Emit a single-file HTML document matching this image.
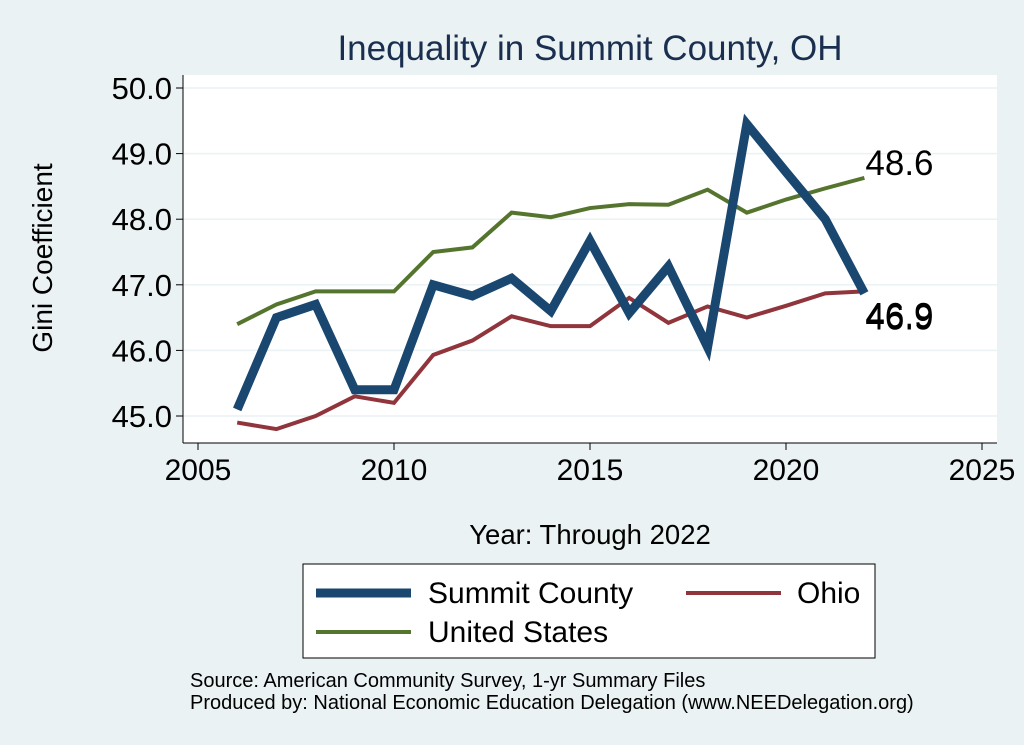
<!DOCTYPE html>
<html><head><meta charset="utf-8"><style>
body{margin:0;background:#eaf2f3;}
svg{display:block;font-family:"Liberation Sans",sans-serif;}
</style></head><body>
<svg id="chart" width="1024" height="745">
<rect x="0" y="0" width="1024" height="745" fill="#eaf2f3"/>
<text x="590" y="60" text-anchor="middle" font-size="35" fill="#1a2e4f">Inequality in Summit County, OH</text>
<rect x="183" y="75" width="814" height="368" fill="#fff"/>
<g id="grid"></g><g id="axes"></g><g id="series"></g>
<text transform="translate(52,258) rotate(-90)" text-anchor="middle" font-size="28" fill="#000">Gini Coefficient</text>
<text x="590" y="544" text-anchor="middle" font-size="27.5" fill="#000">Year: Through 2022</text>
<g>
<rect x="303" y="564" width="572" height="94" fill="#fff" stroke="#000" stroke-width="1"/>
<line x1="316" y1="593" x2="411" y2="593" stroke="#1a476f" stroke-width="9"/>
<text x="428" y="603" font-size="30">Summit County</text>
<line x1="686" y1="593" x2="781" y2="593" stroke="#90353b" stroke-width="4"/>
<text x="797" y="603" font-size="30">Ohio</text>
<line x1="316" y1="632" x2="411" y2="632" stroke="#55752f" stroke-width="4"/>
<text x="428" y="642" font-size="30">United States</text>
</g>
<text x="190" y="687" font-size="20">Source: American Community Survey, 1-yr Summary Files</text>
<text x="190" y="709" font-size="20">Produced by: National Economic Education Delegation (www.NEEDelegation.org)</text>
</svg>
<script>
const years=[2006,2007,2008,2009,2010,2011,2012,2013,2014,2015,2016,2017,2018,2019,2020,2021,2022];
const summit=[45.1,46.5,46.7,45.4,45.4,47.0,46.83,47.1,46.6,47.67,46.57,47.28,46.05,49.45,48.72,48.0,46.87];
const ohio=[44.9,44.8,45.0,45.3,45.2,45.93,46.15,46.52,46.37,46.37,46.8,46.42,46.67,46.5,46.68,46.87,46.9];
const us=[46.4,46.7,46.9,46.9,46.9,47.5,47.57,48.1,48.03,48.17,48.23,48.22,48.45,48.1,48.3,48.47,48.63];
const xTicks=[2005,2010,2015,2020,2025];
const yTicks=[45,46,47,48,49,50];
const NS="http://www.w3.org/2000/svg";
const xs=v=>198+(v-2005)*39.2;
const ys=v=>416-(v-45)*65.6;
function mk(t,a,p){const e=document.createElementNS(NS,t);for(const k in a)e.setAttribute(k,a[k]);p.appendChild(e);return e;}
const grid=document.getElementById('grid'),axes=document.getElementById('axes'),ser=document.getElementById('series');
yTicks.forEach(v=>{
 const g=mk('line',{x1:183,x2:997,y1:ys(v),y2:ys(v),stroke:'#eaf2f3','stroke-width':1.5},grid);
 
 
 mk('line',{x1:176,x2:183,y1:ys(v),y2:ys(v),stroke:'#000'},axes);
 const t=mk('text',{x:172,y:ys(v)+11,'text-anchor':'end','font-size':31},axes);t.textContent=v.toFixed(1);
 
 
});
mk('line',{x1:183,x2:183,y1:75,y2:443,stroke:'#000'},axes);
mk('line',{x1:183,x2:997,y1:443,y2:443,stroke:'#000'},axes);
xTicks.forEach(v=>{
 mk('line',{x1:xs(v),x2:xs(v),y1:443,y2:450,stroke:'#000'},axes);
 const t=mk('text',{x:xs(v),y:480,'text-anchor':'middle','font-size':30},axes);t.textContent=v;
 
 
});
function line(vals,color,w,name){
 const p=mk('polyline',{points:vals.map((v,i)=>xs(years[i])+','+ys(v)).join(' '),fill:'none',stroke:color,'stroke-width':w,'stroke-linejoin':'miter'},ser);
 
 
}
line(ohio,'#90353b',4,'ohio-line');
line(us,'#55752f',4,'us-line');
line(summit,'#1a476f',9,'summit-line');
function lab(v,name){const n=years.length-1;const t=mk('text',{x:xs(years[n])+1,y:ys(v)+(name==='us-end-label'?-3:36),'font-size':35},ser);t.textContent=v.toFixed(1);
 
 }
lab(us[us.length-1],'us-end-label');
lab(ohio[ohio.length-1],'ohio-end-label');
lab(summit[summit.length-1],'summit-end-label');
</script>
</body></html>
